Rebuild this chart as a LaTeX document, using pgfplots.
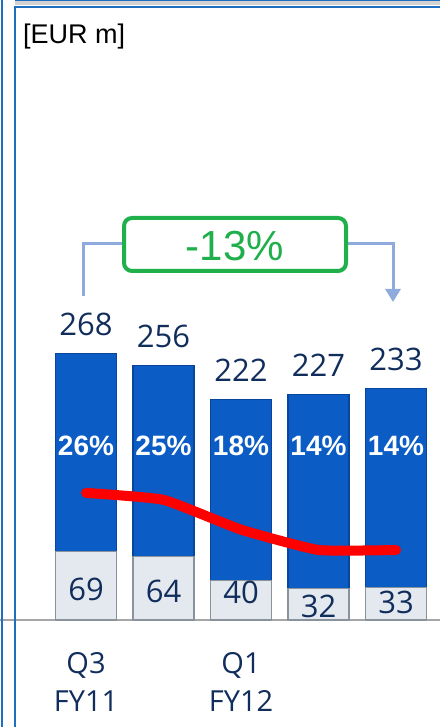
\documentclass[border=0pt]{standalone}
\usepackage{pgfplots}
\pgfplotsset{compat=1.18}
\usepackage{fontspec}
\setmainfont{Liberation Sans}
\newfontfamily\numfont{Open Sans}
\usetikzlibrary{arrows.meta}
\definecolor{barblue}{HTML}{0B5CC5}
\definecolor{baredge}{HTML}{07469C}
\definecolor{lowfill}{HTML}{E4E9EF}
\definecolor{lowedge}{HTML}{8A929C}
\definecolor{navy}{HTML}{112D5C}
\definecolor{framblue}{HTML}{1F6FC0}
\definecolor{brk}{HTML}{8FAADC}
\definecolor{grn}{HTML}{1FAF4B}

\pgfplotsset{
  base/.style={scale only axis, width=440pt, height=613pt,
    xmin=-1.1097, xmax=4.5677, ymin=0, ymax=617.3,
    at={(0pt,107pt)}, anchor=south west, clip=false},
}

\begin{document}
\begin{tikzpicture}
\path[use as bounding box] (0pt,0pt) rectangle (440pt,727pt);
% bars
\begin{axis}[base,
  ybar stacked, bar width=61pt,
  hide y axis, axis x line*=bottom,
  x axis line style={draw=gray!70, line width=1.2pt},
  xtick={0,2}, xticklabels={{Q3\\FY11},{Q1\\FY12}},
  major tick length=0pt,
  xticklabel style={align=center, text=navy, inner sep=0pt, anchor=north, yshift=-32pt,
    font=\numfont\fontsize{29}{38}\selectfont},
]
\addplot[fill=lowfill, draw=lowedge, line width=1.2pt] coordinates {(0,69)(1,64)(2,40)(3,32)(4,33)};
\addplot[fill=barblue, draw=baredge, line width=1.2pt] coordinates {(0,199)(1,192)(2,182)(3,195)(4,200)};
\end{axis}
% share line and labels
\begin{axis}[base, axis lines=none]
\addplot[red, line width=10pt, line cap=round, smooth, tension=0.25]
  coordinates {(0,128)(1,121)(2,91)(3,70.5)(4,70.5)};
\addplot[draw=none, point meta=explicit symbolic, nodes near coords,
  nodes near coords style={anchor=base, inner sep=0pt, yshift=18pt, text=navy,
    font=\numfont\fontsize{31}{36}\selectfont}]
  table[meta=lab] {
x y lab
0 268 268
1 256 256
2 222 222
3 227 227
4 233 233
};
\addplot[draw=none, point meta=explicit symbolic, nodes near coords,
  nodes near coords style={anchor=base, inner sep=0pt, text=white,
    font=\bfseries\fontsize{28}{32}\selectfont}]
  table[meta=lab] {
x y lab
0 166 26\%
1 166 25\%
2 166 18\%
3 166 14\%
4 166 14\%
};
\addplot[draw=none, point meta=explicit symbolic, nodes near coords,
  nodes near coords style={anchor=base, inner sep=0pt, text=navy,
    font=\numfont\fontsize{31}{36}\selectfont}]
  table[meta=lab] {
x y lab
0 20 69
1 18 64
2 17 40
3 3 32
4 7 33
};
\end{axis}
% frame
\fill[gray!35] (15pt,722pt) rectangle (440pt,727pt);
\draw[framblue, line width=1.5pt] (15pt,727pt) -- (440pt,727pt);
\draw[framblue, line width=2pt] (1.5pt,0pt) -- (1.5pt,727pt);
\draw[framblue, line width=2pt] (15pt,0pt) -- (15pt,720pt) -- (440pt,720pt);
\node[anchor=base west, inner sep=0pt, font=\fontsize{27}{32}\selectfont] at (23pt,683pt) {[EUR m]};
% bracket
\draw[brk, line width=3pt] (83pt,431pt) -- (83pt,483pt) -- (123pt,483pt);
\draw[brk, line width=3pt, -{Triangle[length=13pt,width=15pt]}] (347pt,483pt) -- (393pt,483pt) -- (393pt,425pt);
\draw[grn, line width=4pt, rounded corners=8pt, fill=white] (124pt,456pt) rectangle (346pt,509pt);
\node[text=grn, font=\fontsize{42}{48}\selectfont] at (235pt,481pt) {-13\%};
\end{tikzpicture}
\end{document}
